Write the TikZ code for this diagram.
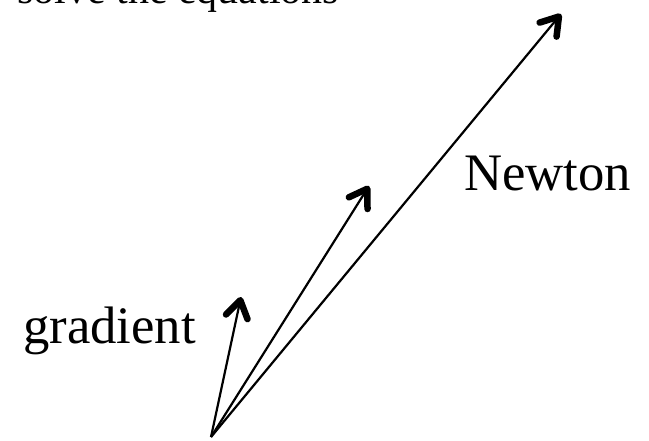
\documentclass[tikz,border=0pt]{standalone}
\usepackage{fontspec}
\setmainfont{Liberation Serif}
\usetikzlibrary{arrows.meta}

\begin{document}
\begin{tikzpicture}[x=1pt,y=-1pt,
		vec/.style={-{Straight Barb[length=17pt,width=22pt,line width=6.5pt,round]}, line width=2.2pt},
		lbl/.style={anchor=base west, inner sep=0pt, font=\fontsize{52.7}{60}\selectfont}]
	\clip (0,0) rectangle (649,440);
	
	% labels
	\node[lbl, font=\fontsize{42}{48}\selectfont] (title) at (17,3) {solve the equations};
	\node[lbl] (newton) at (464,190) {Newton};
	\node[lbl] (grad) at (23,343) {gradient};
	
	% common start and the three directions
	\coordinate (o) at (211,437);
	\coordinate (tgrad) at (241,297);
	\coordinate (tmid) at (369,186);
	\coordinate (tnewton) at (561,14);
	
	\draw[vec] (o) -- (tgrad);
	\draw[vec] (o) -- (tmid);
	\draw[vec] (o) -- (tnewton);
\end{tikzpicture}
\end{document}
